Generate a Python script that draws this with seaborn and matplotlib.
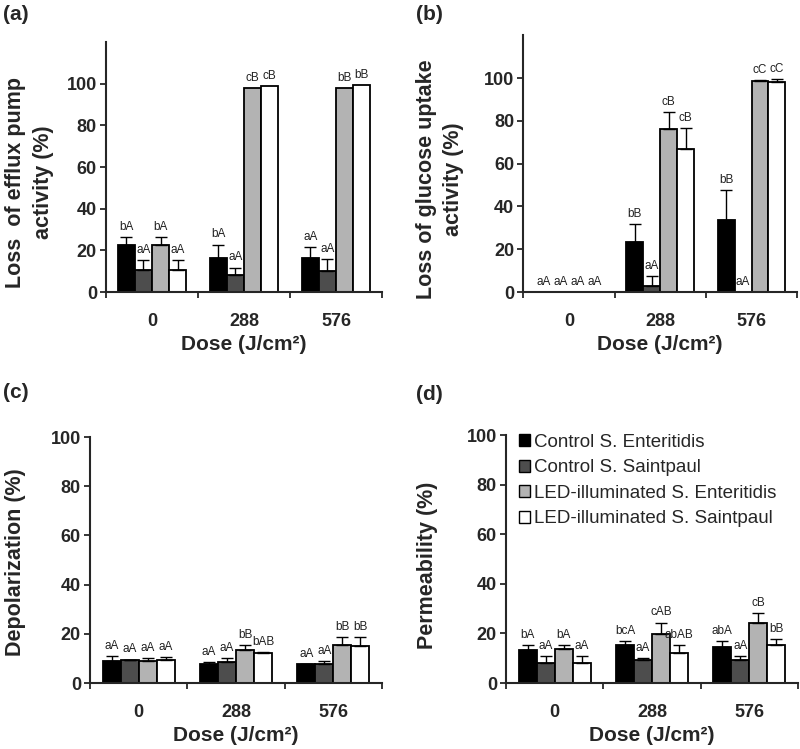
import numpy as np
import pandas as pd
import seaborn as sns
import matplotlib.pyplot as plt
from matplotlib.patches import Patch

## data (rows = series, columns = dose)
doses = ["0", "288", "576"]
groups = [
    "Control S. Enteritidis",
    "Control S. Saintpaul",
    "LED-illuminated S. Enteritidis",
    "LED-illuminated S. Saintpaul",
]
colors = ["#000000", "#4d4d4d", "#b3b3b3", "#ffffff"]

# (a) loss of efflux pump activity
efflux_mean = [[22.5, 16.5, 16.5], [10.8, 8.0, 10.2], [22.5, 98.0, 98.0], [10.8, 99.0, 99.4]]
efflux_err = [[4.0, 6.3, 5.2], [4.6, 3.8, 5.8], [4.0, 0.0, 0.0], [4.6, 0.0, 0.0]]
efflux_lab = [["bA", "bA", "aA"], ["aA", "aA", "aA"], ["bA", "cB", "bB"], ["aA", "cB", "bB"]]

# (b) loss of glucose uptake activity
glucose_mean = [[0.0, 23.4, 33.6], [0.0, 2.8, 0.0], [0.0, 76.2, 98.6], [0.0, 66.8, 98.1]]
glucose_err = [[0.0, 8.4, 14.1], [0.0, 4.7, 0.0], [0.0, 7.8, 0.4], [0.0, 9.8, 1.3]]
glucose_lab = [["aA", "bB", "bB"], ["aA", "aA", "aA"], ["aA", "cB", "cC"], ["aA", "cB", "cC"]]

# (c) depolarization
depol_mean = [[9.1, 7.6, 7.7], [9.3, 8.4, 7.7], [8.8, 13.3, 15.5], [9.4, 12.0, 15.2]]
depol_err = [[2.0, 0.9, 0.1], [0.2, 1.8, 1.1], [1.4, 2.0, 3.2], [1.1, 0.5, 3.5]]
depol_lab = [["aA", "aA", "aA"], ["aA", "aA", "aA"], ["aA", "bB", "bB"], ["aA", "bAB", "bB"]]

# (d) permeability
perm_mean = [[13.4, 15.3, 14.5], [8.0, 9.4, 9.4], [13.7, 19.7, 24.3], [8.0, 12.0, 15.3]]
perm_err = [[1.8, 1.5, 2.3], [2.7, 0.6, 1.6], [1.5, 4.7, 3.9], [2.7, 3.4, 2.4]]
perm_lab = [["bA", "bcA", "abA"], ["aA", "aA", "aA"], ["bA", "cAB", "cB"], ["aA", "abAB", "bB"]]

sns.set_style("ticks")
plt.rcParams["font.family"] = ["Liberation Sans", "DejaVu Sans"]


def panel(ax, mean, err, lab, ylabel, ymax, label_xy):
    df = pd.DataFrame(
        [(d, g, mean[i][j]) for i, g in enumerate(groups) for j, d in enumerate(doses)],
        columns=["dose", "group", "value"],
    )
    sns.barplot(
        data=df, x="dose", y="value", hue="group", order=doses, hue_order=groups,
        palette=colors, saturation=1, edgecolor="black", linewidth=1.3,
        width=0.74, gap=0, errorbar=None, legend=False, ax=ax, zorder=2,
    )
    bar_sets = list(ax.containers)
    for i, bars in enumerate(bar_sets):
        for j, bar in enumerate(bars):
            x = bar.get_x() + bar.get_width() / 2
            h = bar.get_height()
            e = err[i][j]
            if e > 0:
                ax.errorbar(x, h, yerr=[[0], [e]], fmt="none", ecolor="black",
                            elinewidth=1, capsize=4, capthick=1, zorder=3)
            ax.annotate(lab[i][j], (x, h + e), xytext=(0, 3), textcoords="offset points",
                        ha="center", va="bottom", fontsize=8.5, color="#222222")
    ax.set_xlim(-0.5, 2.5)
    ax.set_ylim(0, ymax)
    ax.set_yticks(range(0, 101, 20))
    ax.set_xticks([-0.5, 0.5, 1.5, 2.5], ["", "", "", ""])
    ax.set_xticks([0, 1, 2], doses, minor=True)
    ax.tick_params(axis="x", which="major", length=4.5, width=1.3, direction="out")
    ax.tick_params(axis="x", which="minor", length=0, pad=15, labelsize=13)
    ax.tick_params(axis="y", length=4.5, width=1.3, pad=2, labelsize=13)
    for t in ax.get_xticklabels(minor=True) + ax.get_yticklabels():
        t.set_fontweight("bold")
    ax.set_xlabel("Dose (J/cm\u00b2)", fontsize=15, fontweight="bold", labelpad=4)
    ax.set_ylabel(ylabel, fontsize=15.5, fontweight="bold", linespacing=1.4)
    ax.yaxis.set_label_coords(*label_xy)
    for s in ["left", "bottom"]:
        ax.spines[s].set_linewidth(1.5)
    sns.despine(ax=ax)


fig = plt.figure(figsize=(8, 7.49), dpi=100)
ax_a = fig.add_axes([0.1325, 0.610, 0.345, 0.334])
ax_b = fig.add_axes([0.654, 0.610, 0.3425, 0.343])
ax_c = fig.add_axes([0.1125, 0.0881, 0.365, 0.3284])
ax_d = fig.add_axes([0.6325, 0.0881, 0.365, 0.331])

panel(ax_a, efflux_mean, efflux_err, efflux_lab,
      "Loss  of efflux pump\nactivity (%)", 120, (-0.19, 0.44))
panel(ax_b, glucose_mean, glucose_err, glucose_lab,
      "Loss of glucose uptake\nactivity (%)", 120, (-0.215, 0.44))
panel(ax_c, depol_mean, depol_err, depol_lab,
      "Depolarization (%)", 100, (-0.22, 0.49))
panel(ax_d, perm_mean, perm_err, perm_lab,
      "Permeability (%)", 100, (-0.232, 0.476))

handles = [Patch(facecolor=c, edgecolor="black", linewidth=1) for c in colors]
ax_d.legend(handles, groups, loc="upper left", bbox_to_anchor=(0.045, 1.005),
            frameon=False, fontsize=13.5, handlelength=0.6, handleheight=0.6,
            handletextpad=0.2, labelspacing=0.45, borderaxespad=0, borderpad=0)

for txt, x, y in [("(a)", 3, 14), ("(b)", 416, 15), ("(c)", 3, 393), ("(d)", 416, 395)]:
    fig.text(x / 800, 1 - y / 749, txt, fontsize=15, fontweight="bold", va="center")

plt.savefig("out.png", dpi=100)
